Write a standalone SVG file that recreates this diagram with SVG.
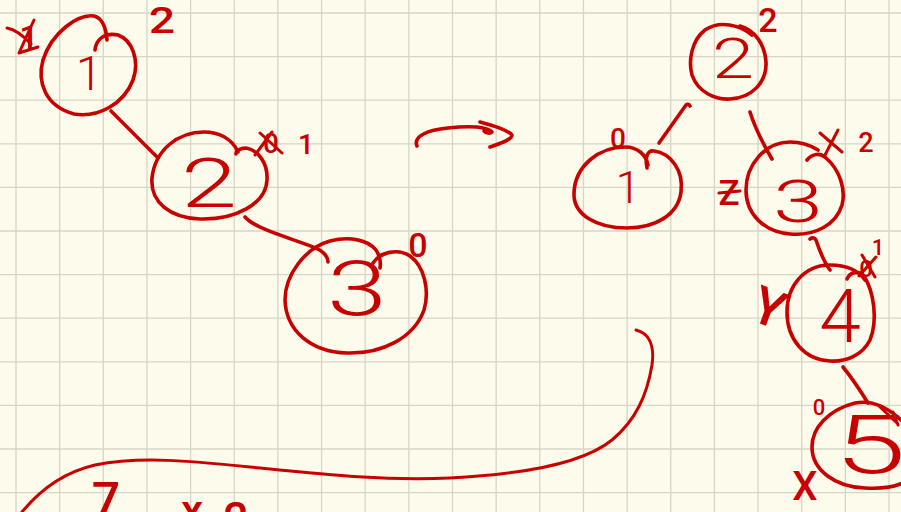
<svg xmlns="http://www.w3.org/2000/svg" width="901" height="512" viewBox="0 0 901 512">
  <style>
    .paper { fill: #fdfbec; }
    .grid { fill: none; stroke: #d7d5c5; stroke-width: 1.3; }
    .ink { fill: none; stroke: #c80000; stroke-width: 3.6; stroke-linecap: round; stroke-linejoin: round; }
    .fine { stroke-width: 3; }
    .hw { fill: #c80000; font-family: Roboto, "Liberation Sans", Arial, sans-serif; font-weight: 300; text-anchor: middle; }
    .sm { font-weight: 500; }
  </style>

  <!-- squared note paper -->
  <rect class="paper" x="0" y="0" width="901" height="512"/>
  <path class="grid" d="M16,0V512 M59.65,0V512 M103.3,0V512 M146.95,0V512 M190.6,0V512 M234.25,0V512 M277.9,0V512 M321.55,0V512 M365.2,0V512 M408.85,0V512 M452.5,0V512 M496.15,0V512 M539.8,0V512 M583.45,0V512 M627.1,0V512 M670.75,0V512 M714.4,0V512 M758.05,0V512 M801.7,0V512 M845.35,0V512 M889,0V512
    M0,13H901 M0,56.6H901 M0,100.2H901 M0,143.8H901 M0,187.4H901 M0,231H901 M0,274.6H901 M0,318.2H901 M0,361.8H901 M0,405.4H901 M0,449H901 M0,492.6H901"/>

  <!-- edges of both trees -->
  <g id="connectors">
    <path class="ink" d="M111,111 L157,157"/>
    <path class="ink" d="M245,217 C256,230 298,240 318,249 C325,253 328,258 328,262"/>
    <path class="ink" d="M690,106 C689,104 687,104 686,105 L659,143"/>
    <path class="ink" d="M750,112 C755,128 762,142 772,159"/>
    <path class="ink" d="M810,239 C813,237 815,238 816,240 C820,252 824,262 830,270"/>
    <path class="ink" d="M843,367 C852,378 860,390 868,403"/>
  </g>

  <!-- left tree: node 1 -->
  <g id="left-node-1">
    <path class="ink" d="M107,40 C106,28 102,18 94,16 C78,14 52,32 43,60 C37,82 45,106 74,114 C98,118 124,104 133,80 C140,60 132,40 118,35 C104,32 96,40 95,50"/>
    <text class="hw" x="89" y="90" font-size="48">1</text>
    <text class="hw sm" x="162" y="33" font-size="36" textLength="26" lengthAdjust="spacingAndGlyphs">2</text>
    <text class="hw sm" x="29" y="49" font-size="34">1</text>
    <path class="ink fine" d="M7,28 Q18,30 31,44 M34,20 L19,53 L38,47"/>
  </g>

  <!-- left tree: node 2 -->
  <g id="left-node-2">
    <path class="ink" d="M238,152 C232,138 218,132 204,132 C178,132 155,150 152,178 C150,202 170,218 200,219 C235,220 266,204 267,180 C268,163 258,150 246,148 C240,148 236,151 236,154"/>
    <text class="hw" x="209" y="207" font-size="68" textLength="56" lengthAdjust="spacingAndGlyphs">2</text>
    <text class="hw sm" x="271" y="153" font-size="28">0</text>
    <path class="ink fine" d="M255,155 L272,132 M260,133 L282,153"/>
    <text class="hw sm" x="306" y="154" font-size="28">1</text>
  </g>

  <!-- left tree: node 3 -->
  <g id="left-node-3">
    <path class="ink" d="M373,263 C380,252 398,248 410,256 C424,266 430,290 424,310 C414,338 382,354 347,353 C310,352 286,330 285,300 C285,275 305,248 330,241 C350,236 368,240 376,250 C380,256 381,262 380,268"/>
    <text class="hw" x="357" y="315" font-size="76" textLength="60" lengthAdjust="spacingAndGlyphs">3</text>
    <text class="hw sm" x="418" y="257" font-size="34">0</text>
  </g>

  <!-- rotation arrow -->
  <g id="arrow">
    <path class="ink" d="M417,146 C413,136 428,130 448,128 C468,126 486,126 492,132 C490,134 486,133 484,131"/>
    <path class="ink" d="M480,122 C495,126 508,130 512,135 C512,140 498,144 490,147"/>
  </g>

  <!-- right tree: root 2 -->
  <g id="right-node-2">
    <path class="ink" d="M752,35 C740,25 720,20 705,30 C692,40 688,60 692,75 C698,92 715,100 730,99 C752,98 767,82 766,62 C765,45 755,30 740,26"/>
    <text class="hw" x="733" y="78" font-size="56" textLength="42" lengthAdjust="spacingAndGlyphs">2</text>
    <text class="hw sm" x="768" y="32" font-size="34">2</text>
  </g>

  <!-- right tree: node 1 -->
  <g id="right-node-1">
    <path class="ink" d="M647,168 C645,158 647,150 654,151 C670,153 684,170 681,192 C678,215 655,228 627,228 C597,228 573,215 574,193 C575,165 600,147 625,147 C638,147 646,155 648,165"/>
    <text class="hw" x="628" y="203" font-size="44">1</text>
    <text class="hw sm" x="618" y="148" font-size="28">0</text>
  </g>

  <!-- right tree: node 3 -->
  <g id="right-node-3">
    <path class="ink" d="M807,160 C812,154 820,152 826,158 C840,170 846,190 842,205 C836,225 815,236 790,234 C765,232 746,215 746,190 C746,165 765,142 790,142 C800,142 810,145 818,150"/>
    <text class="hw" x="798" y="222" font-size="60" textLength="50" lengthAdjust="spacingAndGlyphs">3</text>
    <text class="hw sm" x="729" y="205" font-size="35">Z</text>
    <path class="ink fine" d="M719,193 L740,191"/>
    <path class="ink fine" d="M820,133 L842,152 M838,130 L825,155"/>
    <text class="hw sm" x="866" y="152" font-size="27">2</text>
  </g>

  <!-- right tree: node 4 -->
  <g id="right-node-4">
    <path class="ink" d="M847,279 C850,272 858,270 864,276 C874,292 878,320 870,340 C862,356 845,362 830,361 C805,360 787,340 787,312 C787,285 805,265 830,265 C845,265 858,270 865,280"/>
    <text class="hw" x="840" y="342" font-size="75">4</text>
    <text class="hw sm" x="770" y="326" font-size="52" transform="rotate(20 770 305)">Y</text>
    <text class="hw sm" x="866" y="277" font-size="24">0</text>
    <path class="ink fine" d="M862,255 L875,277 M876,257 L859,276"/>
    <text class="hw sm" x="878" y="255" font-size="22">1</text>
  </g>

  <!-- right tree: node 5 -->
  <g id="right-node-5">
    <path class="ink" d="M901,420 C885,405 870,400 855,403 C828,410 812,428 812,447 C812,470 835,487 865,488 C880,489 895,487 905,482"/>
    <text class="hw" x="870" y="473" font-size="82" textLength="72" lengthAdjust="spacingAndGlyphs">5</text>
    <text class="hw sm" x="819" y="415" font-size="22">0</text>
    <path class="ink fine" d="M880,407 L897,423 M893,412 L898,425"/>
    <text class="hw sm" x="805" y="500" font-size="40">X</text>
  </g>

  <!-- long sweep and the notes below it -->
  <g id="bottom-notes">
    <path class="ink fine" d="M636,330 C648,333 655,344 652,365 C647,395 636,420 612,440 C585,462 530,474 450,478 C380,481 320,474 250,467 C190,461 140,456 95,465 C65,472 40,490 22,512"/>
    <text class="hw sm" x="106" y="518" font-size="50">7</text>
    <text class="hw sm" x="192" y="526" font-size="44">x</text>
    <text class="hw sm" x="236" y="534" font-size="44">2</text>
  </g>
</svg>
